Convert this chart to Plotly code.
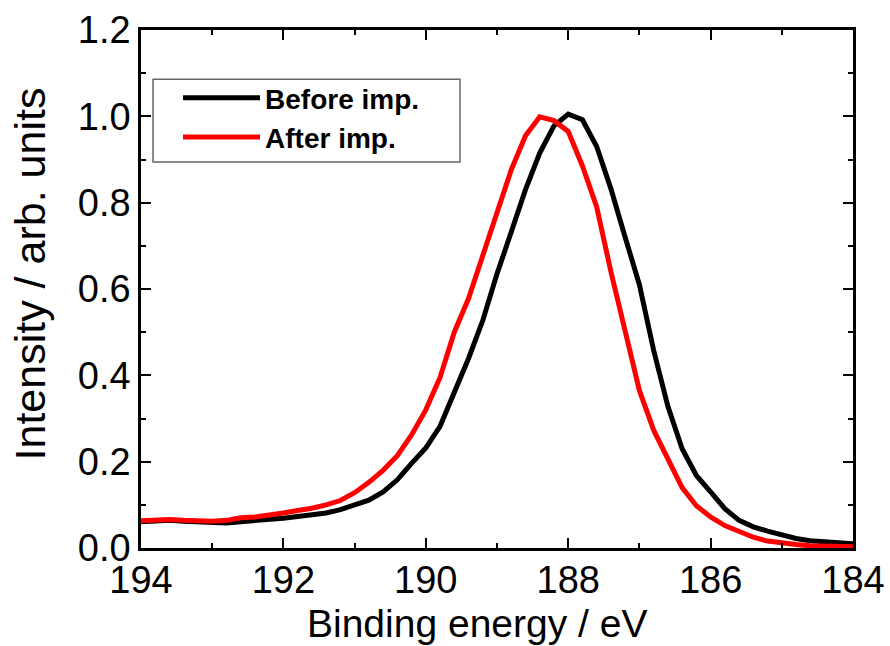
import plotly.graph_objects as go

energy = [194.0, 193.8, 193.6, 193.4, 193.2, 193.0, 192.8, 192.6, 192.4, 192.2,
          192.0, 191.8, 191.6, 191.4, 191.2, 191.0, 190.8, 190.6, 190.4, 190.2,
          190.0, 189.8, 189.6, 189.4, 189.2, 189.0, 188.8, 188.6, 188.4, 188.2,
          188.0, 187.8, 187.6, 187.4, 187.2, 187.0, 186.8, 186.6, 186.4, 186.2,
          186.0, 185.8, 185.6, 185.4, 185.2, 185.0, 184.8, 184.6, 184.4, 184.2,
          184.0]

before_imp = [0.061, 0.062, 0.064, 0.062, 0.061, 0.059, 0.058, 0.061, 0.063, 0.065,
              0.069, 0.073, 0.076, 0.081, 0.089, 0.100, 0.111, 0.130, 0.158, 0.196,
              0.232, 0.282, 0.359, 0.439, 0.527, 0.635, 0.732, 0.830, 0.915, 0.978,
              1.005, 0.992, 0.930, 0.832, 0.720, 0.610, 0.458, 0.328, 0.230, 0.168,
              0.130, 0.091, 0.064, 0.049, 0.039, 0.030, 0.022, 0.017, 0.014, 0.012,
              0.010]

after_imp = [0.063, 0.064, 0.066, 0.064, 0.063, 0.062, 0.064, 0.070, 0.072, 0.076,
             0.081, 0.087, 0.092, 0.100, 0.110, 0.128, 0.152, 0.180, 0.214, 0.262,
             0.320, 0.395, 0.500, 0.578, 0.675, 0.780, 0.876, 0.955, 0.999, 0.990,
             0.965, 0.885, 0.790, 0.640, 0.505, 0.365, 0.273, 0.205, 0.140, 0.098,
             0.072, 0.052, 0.038, 0.025, 0.016, 0.011, 0.008, 0.005, 0.004, 0.003,
             0.003]

x_ticks = [194, 192, 190, 188, 186, 184]
y_ticks = [0.0, 0.2, 0.4, 0.6, 0.8, 1.0, 1.2]
y_tick_labels = ["0.0", "0.2", "0.4", "0.6", "0.8", "1.0", "1.2"]

x_title = "Binding energy / eV"
y_title = "Intensity / arb. units"

FONT = "Liberation Sans, Arial, sans-serif"

fig = go.Figure()
fig.add_trace(go.Scatter(x=energy, y=before_imp, mode="lines", name="Before imp.",
                         line=dict(color="#000000", width=5)))
fig.add_trace(go.Scatter(x=energy, y=after_imp, mode="lines", name="After imp.",
                         line=dict(color="#FF0000", width=5)))

axis_common = dict(
    showline=True, linecolor="black", linewidth=2.5, mirror="ticks",
    ticks="inside", ticklen=10, tickwidth=2, tickcolor="black",
    showgrid=False, zeroline=False, automargin=False,
    tickfont=dict(family=FONT, size=38, color="black"),
)

fig.update_xaxes(
    **axis_common,
    range=[194, 184], tickvals=x_ticks, ticklabelstandoff=-3,
    minor=dict(ticks="inside", ticklen=5, tickwidth=2, tickcolor="black", dtick=1, showgrid=False),
)
fig.update_yaxes(
    **axis_common,
    range=[0, 1.2], tickvals=y_ticks, ticktext=y_tick_labels,
    minor=dict(ticks="inside", ticklen=5, tickwidth=2, tickcolor="black", dtick=0.1, showgrid=False),
)

# axis titles (placed as in the reference, slightly off-centre)
fig.add_annotation(text=x_title, xref="paper", yref="paper", x=0.4715, y=-0.1892,
                   xanchor="center", yanchor="bottom", showarrow=False, borderpad=0,
                   font=dict(family=FONT, size=39, color="black"))
fig.add_annotation(text=y_title, xref="paper", yref="paper", x=-0.1559, y=0.530,
                   xanchor="center", yanchor="middle", textangle=-90, showarrow=False,
                   borderpad=0, font=dict(family=FONT, size=43, color="black"))

# legend frame
fig.add_shape(type="rect", xref="paper", yref="paper",
              x0=0.0169, x1=0.448, y0=0.745, y1=0.905,
              line=dict(color="#666666", width=1.5), fillcolor="white", layer="below")

fig.update_layout(
    width=890, height=646,
    margin=dict(l=141, r=37, t=30, b=98),
    paper_bgcolor="white", plot_bgcolor="rgba(0,0,0,0)",
    showlegend=True,
    legend=dict(
        x=0.052, y=0.917, xanchor="left", yanchor="top",
        bgcolor="rgba(0,0,0,0)", borderwidth=0,
        font=dict(family=FONT, size=28, color="black", weight="bold"),
        itemwidth=77, tracegroupgap=0,
    ),
)

fig.write_html("out.html")
